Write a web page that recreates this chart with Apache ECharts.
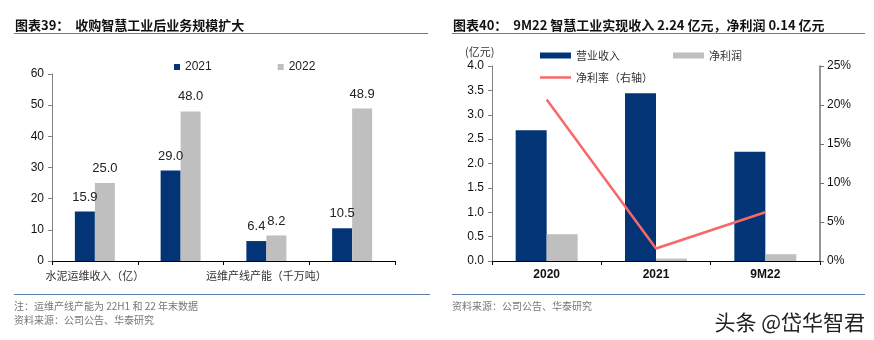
<!DOCTYPE html>
<html><head><meta charset="utf-8">
<script src="https://cdn.jsdelivr.net/npm/echarts@6/dist/echarts.min.js"></script>
<style>html,body{margin:0;padding:0;background:#fff}#c{width:874px;height:340px}</style>
</head><body><div id="c"></div>
<script>
// ---- data: left chart ----
const leftCategories = ['水泥运维收入（亿）', '', '运维产线产能（千万吨）', ' '];
const left2021 = [15.9, 29.0, 6.4, 10.5];
const left2022 = [25.0, 48.0, 8.2, 48.9];
const leftSeriesNames = ['2021', '2022'];
// ---- data: right chart ----
const rightCategories = ['2020', '2021', '9M22'];
const revenue = [2.68, 3.44, 2.24];
const netProfit = [0.55, 0.05, 0.14];
const netMargin = [0.207, 0.016, 0.0625];
const rightSeriesNames = ['营业收入', '净利润', '净利率（右轴）'];

const NUM = 'Liberation Sans, Arial, sans-serif';
const CJK = '"Noto Sans CJK SC", sans-serif';
const NAVY = '#023476', GREY = '#bfbfbf', RED = '#f96868';

const chart = echarts.init(document.getElementById('c'));
chart.setOption({
  animation: false,
  backgroundColor: '#fff',
  grid: [
    {left: 52, right: 479, top: 74, bottom: 79},
    {left: 492, right: 54, top: 66, bottom: 79}
  ],
  legend: [
    {data: leftSeriesNames, left: 169, top: 56, icon: 'rect', itemWidth: 6, itemHeight: 6, itemGap: 66,
     textStyle: {fontFamily: NUM, fontSize: 12, color: '#222'}},
    {data: rightSeriesNames.slice(0, 2), left: 535, top: 45, icon: 'rect', itemWidth: 31, itemHeight: 6, itemGap: 53,
     textStyle: {fontFamily: CJK, fontSize: 11, color: '#333'}},
    {data: [rightSeriesNames[2]], left: 535, top: 67, icon: 'rect', itemWidth: 31, itemHeight: 2.5,
     textStyle: {fontFamily: CJK, fontSize: 11, color: '#333'}}
  ],
  xAxis: [
    {type: 'category', gridIndex: 0, data: leftCategories,
     axisLine: {lineStyle: {color: '#000', width: 1}},
     axisTick: {show: true, length: 4, lineStyle: {color: '#000'}},
     axisLabel: {interval: 0, margin: 9, fontFamily: CJK, fontSize: 11, color: '#333'}},
    {type: 'category', gridIndex: 1, data: rightCategories,
     axisLine: {lineStyle: {color: '#000', width: 1}},
     axisTick: {show: true, length: 4, lineStyle: {color: '#000'}},
     axisLabel: {interval: 0, margin: 8, fontFamily: NUM, fontSize: 12, color: '#111', fontWeight: 'bold'}}
  ],
  yAxis: [
    {type: 'value', gridIndex: 0, min: 0, max: 60, interval: 10,
     axisLine: {show: true, lineStyle: {color: '#808080'}},
     axisTick: {show: true, length: 4, lineStyle: {color: '#808080'}},
     splitLine: {show: false},
     axisLabel: {margin: 8, fontFamily: NUM, fontSize: 12, color: '#111'}},
    {type: 'value', gridIndex: 1, min: 0, max: 4, interval: 0.5,
     axisLine: {show: true, lineStyle: {color: '#808080'}},
     axisTick: {show: true, length: 4, lineStyle: {color: '#808080'}},
     splitLine: {show: false},
     axisLabel: {margin: 8, fontFamily: NUM, fontSize: 12, color: '#111', formatter: v => v.toFixed(1)}},
    {type: 'value', gridIndex: 1, position: 'right', min: 0, max: 0.25, interval: 0.05,
     axisLine: {show: true, lineStyle: {color: '#707070', width: 1.5}},
     axisTick: {show: true, length: 4, lineStyle: {color: '#707070'}},
     splitLine: {show: false},
     axisLabel: {margin: 7, fontFamily: NUM, fontSize: 12, color: '#111', formatter: v => Math.round(v * 100) + '%'}}
  ],
  series: [
    {name: leftSeriesNames[0], type: 'bar', xAxisIndex: 0, yAxisIndex: 0, data: left2021, barWidth: 20, barGap: '0%',
     itemStyle: {color: NAVY},
     label: {show: true, position: 'top', distance: 8, fontFamily: NUM, fontSize: 13, color: '#222', formatter: p => p.value.toFixed(1)}},
    {name: leftSeriesNames[1], type: 'bar', xAxisIndex: 0, yAxisIndex: 0, data: left2022, barWidth: 20, barGap: '0%',
     itemStyle: {color: GREY},
     label: {show: true, position: 'top', distance: 8, fontFamily: NUM, fontSize: 13, color: '#222', formatter: p => p.value.toFixed(1)}},
    {name: rightSeriesNames[0], type: 'bar', xAxisIndex: 1, yAxisIndex: 1, data: revenue, barWidth: 31, barGap: '0%',
     itemStyle: {color: NAVY}},
    {name: rightSeriesNames[1], type: 'bar', xAxisIndex: 1, yAxisIndex: 1, data: netProfit, barWidth: 31, barGap: '0%',
     itemStyle: {color: GREY}},
    {name: rightSeriesNames[2], type: 'line', xAxisIndex: 1, yAxisIndex: 2, data: netMargin,
     symbol: 'none', showSymbol: false, lineStyle: {color: RED, width: 2.5}, itemStyle: {color: RED}, z: 5}
  ],
  graphic: [
    {type: 'text', style: {text: '图表39：  收购智慧工业后业务规模扩大', x: 15, y: 25, verticalAlign: 'middle', font: 'bold 13px "Noto Sans CJK SC"', fill: '#111'}},
    {type: 'line', shape: {x1: 14, y1: 33.5, x2: 428, y2: 33.5}, style: {stroke: '#5a7ca8', lineWidth: 1}},
    {type: 'text', style: {text: '图表40：  9M22 智慧工业实现收入 2.24 亿元，净利润 0.14 亿元', x: 453, y: 25, verticalAlign: 'middle', font: 'bold 13px "Noto Sans CJK SC"', fill: '#111'}},
    {type: 'line', shape: {x1: 452, y1: 33.5, x2: 865, y2: 33.5}, style: {stroke: '#5a7ca8', lineWidth: 1}},
    {type: 'text', style: {text: '(亿元)', x: 465, y: 52, verticalAlign: 'middle', font: '11px "Noto Sans CJK SC"', fill: '#333'}},
    {type: 'line', shape: {x1: 14, y1: 294.5, x2: 430, y2: 294.5}, style: {stroke: '#5a7ca8', lineWidth: 1}},
    {type: 'line', shape: {x1: 452, y1: 294.5, x2: 865, y2: 294.5}, style: {stroke: '#5a7ca8', lineWidth: 1}},
    {type: 'text', style: {text: '注：运维产线产能为 22H1 和 22 年末数据', x: 14, y: 306, verticalAlign: 'middle', font: '10px "Noto Sans CJK SC"', fill: '#777'}},
    {type: 'text', style: {text: '资料来源：公司公告、华泰研究', x: 14, y: 320, verticalAlign: 'middle', font: '10px "Noto Sans CJK SC"', fill: '#777'}},
    {type: 'text', style: {text: '资料来源：公司公告、华泰研究', x: 452, y: 306, verticalAlign: 'middle', font: '10px "Noto Sans CJK SC"', fill: '#777'}},
    {type: 'text', style: {text: '头条 @岱华智君', x: 865, y: 322, align: 'right', verticalAlign: 'middle', font: '21px "Noto Sans CJK SC"', fill: '#222', stroke: '#fff', lineWidth: 1}}
  ]
});
</script></body></html>
